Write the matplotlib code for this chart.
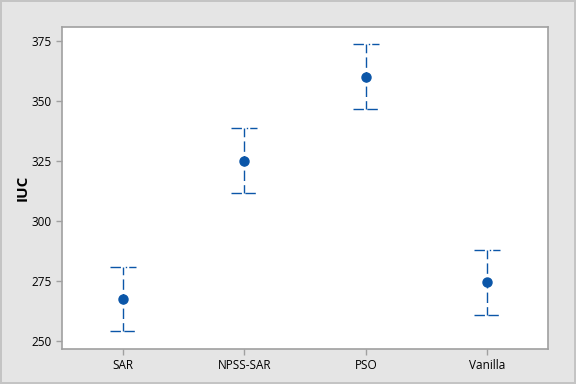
import numpy as np
from matplotlib import pyplot as plt

# interval plot values
categories = ["SAR", "NPSS-SAR", "PSO", "Vanilla"]
means = [267.5, 325.2, 360.1, 274.5]
upper = [280.9, 338.8, 373.8, 288.0]
lower = [254.2, 311.8, 346.7, 261.0]
y_ticks = [250, 275, 300, 325, 350, 375]

blue = "#0b56a8"
grey = "#a0a0a0"

plt.rcParams["font.family"] = ["Open Sans", "DejaVu Sans"]
fig = plt.figure(figsize=(5.76, 3.84), dpi=100, facecolor="#e5e5e5",
                 edgecolor="#c4c4c4", linewidth=1.5)
ax = fig.add_axes([62 / 576, 1 - 349 / 384, 486 / 576, 322 / 384])

x = np.arange(1, len(categories) + 1)
cap = 0.107

ax.vlines(x, lower, upper, color=blue, lw=1.0, linestyles=[(1.5, (7.5, 3))])
ax.hlines(upper, x - cap, x + cap, color=blue, lw=1.0,
          linestyles=[(0, (7.5, 3.5, 1, 1.5))])
ax.hlines(lower, x - cap, x + cap, color=blue, lw=1.0,
          linestyles=[(0, (7.5, 2.5))])
ax.plot(x, means, "o", color=blue, ms=6.5, zorder=3)

ax.set_xlim(0.5, 4.5)
ax.set_ylim(246.7, 380.8)
ax.set_xticks(x)
ax.set_xticklabels(categories)
ax.set_yticks(y_ticks)
ax.set_ylabel("IUC", fontsize=11, fontweight="bold", labelpad=1)

for s in ax.spines.values():
    s.set_color(grey)
    s.set_linewidth(1.2)
ax.tick_params(colors=grey, labelcolor="black", labelsize=8.5, length=4, width=1)

fig.savefig("out.png", dpi=100, facecolor=fig.get_facecolor(),
            edgecolor=fig.get_edgecolor())
